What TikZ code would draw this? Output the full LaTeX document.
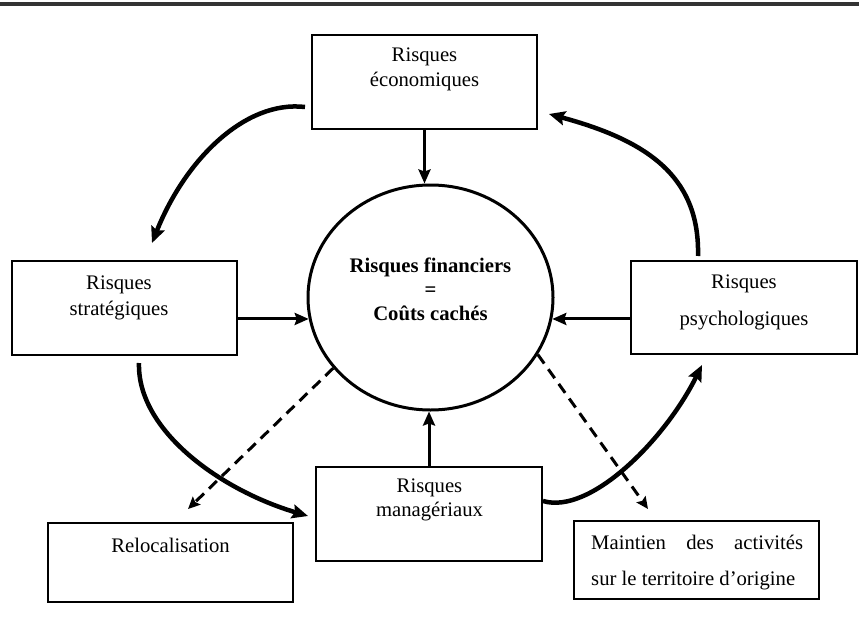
\documentclass[tikz,border=0pt]{standalone}
\usepackage{fontspec}
\setmainfont{Liberation Serif}
\usetikzlibrary{arrows.meta,shapes.geometric,calc}
\begin{document}
\begin{tikzpicture}[x=1pt,y=-1pt,
  box/.style={draw=black, line width=1.6pt, rectangle, inner sep=0pt},
  txt/.style={font=\fontsize{20.7}{25}\selectfont, align=center, inner sep=0pt},
  arr/.style={line width=3pt, -{Stealth[length=14pt,width=12pt,inset=2pt]}},
  curv/.style={line width=4.5pt, -{Stealth[length=16pt,width=14pt,inset=2.5pt]}},
  dasharr/.style={line width=3pt, dash pattern=on 11pt off 7pt, -{Stealth[length=12pt,width=11pt,inset=2pt]}}
]
\useasboundingbox (0,0) rectangle (859,623);
\fill[white] (0,0) rectangle (859,623);

% top rule
\coordinate (ruleL) at (0,4);
\coordinate (ruleR) at (859,4);
\draw[line width=4pt, black!80] (ruleL) -- (ruleR);

% boxes
\node[box, minimum width=225pt, minimum height=94pt] (econ) at (424.5,82) {};
\node[box, minimum width=225pt, minimum height=94pt] (strat) at (124.5,308) {};
\node[box, minimum width=226pt, minimum height=93pt] (psych) at (744,307.5) {};
\node[box, minimum width=226pt, minimum height=94pt] (manag) at (429,514) {};
\node[box, minimum width=245pt, minimum height=79pt] (reloc) at (170.5,562.5) {};
\node[box, minimum width=245pt, minimum height=78pt] (maint) at (696.5,560) {};

% central ellipse
\node[ellipse, draw, line width=3pt, minimum width=245pt, minimum height=225pt, inner sep=0pt] (circ) at (430.5,297.5) {};

% texts
\node[txt] (econT) at (424.5,69.6) {Risques\\économiques};
\node[txt, font=\fontsize{20.7}{26}\selectfont] (stratT) at (119,297.4) {Risques\\stratégiques};
\node[txt, font=\fontsize{20.7}{37}\selectfont] (psychT) at (744,301.9) {Risques\\psychologiques};
\node[txt, font=\fontsize{20.7}{24}\selectfont] (managT) at (429.5,500.2) {Risques\\managériaux};
\node[txt, anchor=base] (relocT) at (170.5,552) {Relocalisation};
\node[txt, font=\fontsize{20.7}{36}\selectfont, align=left, anchor=west] (maintT) at (591,562.2)
  {\makebox[212pt][s]{Maintien des activités}\\sur le territoire d’origine};
\node[txt, font=\fontsize{20.7}{24}\selectfont\bfseries] (circT) at (430.5,288.9)
  {Risques financiers\\=\\Coûts cachés};

% straight arrows into the centre
\draw[arr] (econ.south) -- (econ.south |- circ.north);
\draw[arr] (strat.east |- circ.190) -- (circ.190);
\draw[arr] (psych.west |- circ.350) -- (circ.350);
\draw[arr] (manag.north) -- (manag.north |- circ.south);

% dashed arrows
\coordinate (relocTip) at (188,509);
\coordinate (maintTip) at (648,509);
\draw[dasharr] (circ.216) -- (relocTip);
\draw[dasharr] (circ.-28) -- (maintTip);

% curved arrows
\coordinate (c1s) at (305,107);
\coordinate (c1e) at (152,243);
\draw[curv] (c1s) .. controls (245,100) and (185,160) .. (c1e);
\coordinate (c2s) at (698,256);
\coordinate (c2e) at (549,114);
\draw[curv] (c2s) .. controls (700,175) and (645,140) .. (c2e);
\coordinate (c3s) at (139,363);
\coordinate (c3e) at (308,516);
\draw[curv] (c3s) .. controls (137,430) and (220,490) .. (c3e);
\coordinate (c4s) at (543,501);
\coordinate (c4e) at (702,365);
\draw[curv] (c4s) .. controls (590,515) and (665,440) .. (c4e);
\end{tikzpicture}
\end{document}
